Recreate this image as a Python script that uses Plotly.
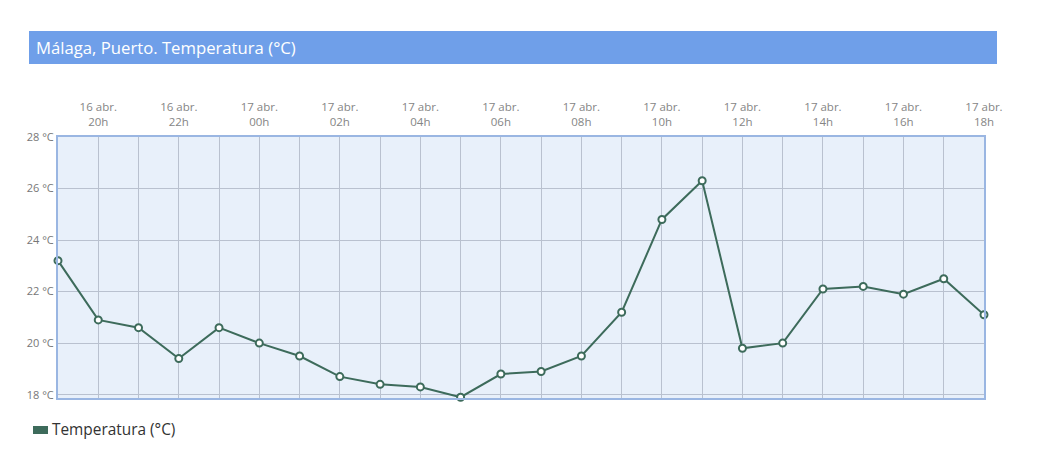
import plotly.graph_objects as go

# ---- data ----
times = [
    "2024-04-16 19:00", "2024-04-16 20:00", "2024-04-16 21:00", "2024-04-16 22:00",
    "2024-04-16 23:00", "2024-04-17 00:00", "2024-04-17 01:00", "2024-04-17 02:00",
    "2024-04-17 03:00", "2024-04-17 04:00", "2024-04-17 05:00", "2024-04-17 06:00",
    "2024-04-17 07:00", "2024-04-17 08:00", "2024-04-17 09:00", "2024-04-17 10:00",
    "2024-04-17 11:00", "2024-04-17 12:00", "2024-04-17 13:00", "2024-04-17 14:00",
    "2024-04-17 15:00", "2024-04-17 16:00", "2024-04-17 17:00", "2024-04-17 18:00",
]
temperatura = [23.2, 20.9, 20.6, 19.4, 20.6, 20.0, 19.5, 18.7, 18.4, 18.3, 17.9, 18.8,
               18.9, 19.5, 21.2, 24.8, 26.3, 19.8, 20.0, 22.1, 22.2, 21.9, 22.5, 21.1]
x_tick_labels = ["", "16 abr.<br>20h", "", "16 abr.<br>22h", "", "17 abr.<br>00h", "",
                 "17 abr.<br>02h", "", "17 abr.<br>04h", "", "17 abr.<br>06h", "",
                 "17 abr.<br>08h", "", "17 abr.<br>10h", "", "17 abr.<br>12h", "",
                 "17 abr.<br>14h", "", "17 abr.<br>16h", "", "17 abr.<br>18h"]
y_ticks = [18, 20, 22, 24, 26, 28]
y_tick_labels = ["18 °C", "20 °C", "22 °C", "24 °C", "26 °C", "28 °C"]
title_text = "Málaga, Puerto. Temperatura (°C)"
series_name = "Temperatura (°C)"

# ---- layout geometry (pixels, page coords minus page margin) ----
OFF = 8
W, H = 1056 - OFF, 474 - OFF
L, R, T, B = 58 - OFF, 984 - OFF, 137 - OFF, 398 - OFF
pw, ph = R - L, B - T

def px_x(x):
    return (x - OFF - L) / pw

def px_y(y):
    return (B - (y - OFF)) / ph

line_color = "#3d6b5b"

fig = go.Figure()
fig.add_trace(go.Scatter(
    x=times, y=temperatura, mode="lines+markers", name=series_name,
    line=dict(color=line_color, width=2),
    marker=dict(size=7, color="white", line=dict(color=line_color, width=2)),
    cliponaxis=False, showlegend=False,
))

fig.update_layout(
    width=W, height=H,
    margin=dict(l=L, r=W - R, t=T, b=H - B, pad=0),
    paper_bgcolor="white",
    plot_bgcolor="#e8f0fa",
    font=dict(family="Open Sans, sans-serif", color="#777", size=11),
    xaxis=dict(
        type="date", side="top",
        range=[times[0], times[-1]],
        tickvals=times, ticktext=x_tick_labels,
        showgrid=True, gridcolor="#b9c1cf", gridwidth=1,
        showline=True, linecolor="#9ab6e2", linewidth=2, mirror=True,
        ticks="", tickfont=dict(size=11.5, color="#858585"),
        ticklabelstandoff=4,
        zeroline=False, fixedrange=True,
    ),
    yaxis=dict(
        range=[17.87, 28],
        tickvals=y_ticks, ticktext=y_tick_labels,
        showgrid=True, gridcolor="#b9c1cf", gridwidth=1,
        showline=True, linecolor="#9ab6e2", linewidth=2, mirror=True,
        ticks="", ticklen=0, tickfont=dict(size=11, color="#777"),
        zeroline=False, fixedrange=True,
    ),
    showlegend=False,
)

# title bar
fig.add_shape(type="rect", xref="paper", yref="paper",
              x0=px_x(29), x1=px_x(997), y0=px_y(64), y1=px_y(31),
              fillcolor="#6f9fe9", line=dict(width=0), layer="below")
fig.add_annotation(xref="paper", yref="paper", x=px_x(34), y=px_y(47.5),
                   xanchor="left", yanchor="middle", showarrow=False,
                   text=title_text, font=dict(size=16.7, color="white",
                                              family="Open Sans, sans-serif"))

# legend
fig.add_shape(type="rect", xref="paper", yref="paper",
              x0=px_x(33), x1=px_x(48), y0=px_y(434), y1=px_y(426),
              fillcolor=line_color, line=dict(width=0))
fig.add_annotation(xref="paper", yref="paper", x=px_x(50), y=px_y(429),
                   xanchor="left", yanchor="middle", showarrow=False,
                   text=series_name, font=dict(size=15.4, color="#333",
                                               family="Open Sans, sans-serif"))

fig.write_html("out.html")
